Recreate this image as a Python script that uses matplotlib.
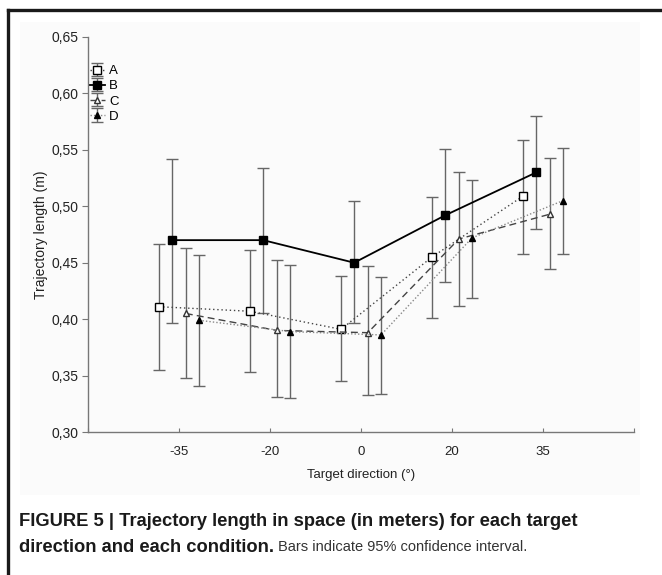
import numpy as np
import matplotlib.pyplot as plt
from matplotlib.patches import Rectangle
from matplotlib.lines import Line2D

plt.rcParams['font.family'] = ['Liberation Sans', 'DejaVu Sans']

directions = ['-35', '-20', '0', '20', '35']
conditions = ['A', 'B', 'C', 'D']

A_mean = [0.411, 0.407, 0.391, 0.455, 0.509]
A_low = [0.355, 0.353, 0.345, 0.401, 0.458]
A_high = [0.467, 0.461, 0.438, 0.508, 0.559]
B_mean = [0.470, 0.470, 0.450, 0.492, 0.530]
B_low = [0.397, 0.405, 0.397, 0.433, 0.480]
B_high = [0.542, 0.534, 0.505, 0.551, 0.580]
C_mean = [0.405, 0.390, 0.388, 0.471, 0.493]
C_low = [0.348, 0.331, 0.333, 0.412, 0.444]
C_high = [0.463, 0.452, 0.447, 0.530, 0.543]
D_mean = [0.399, 0.389, 0.386, 0.472, 0.505]
D_low = [0.341, 0.330, 0.334, 0.419, 0.458]
D_high = [0.457, 0.448, 0.437, 0.523, 0.552]

W, H = 662, 575
fig = plt.figure(figsize=(W / 100, H / 100), dpi=100)

# faint panel behind the chart and the L-shaped frame
fig.add_artist(Rectangle((20 / W, 1 - 495 / H), 620 / W, 473 / H,
                         transform=fig.transFigure, facecolor='#fbfbfb',
                         edgecolor='none', zorder=-10))
fig.add_artist(Line2D([8 / W, 1], [1 - 10 / H, 1 - 10 / H], transform=fig.transFigure,
                      color='#1a1a1a', lw=2.4))
fig.add_artist(Line2D([8 / W, 8 / W], [0, 1 - 10 / H], transform=fig.transFigure,
                      color='#1a1a1a', lw=2.4))

ax = fig.add_axes([88 / W, 1 - 432 / H, (634 - 88) / W, (432 - 37) / H])
ax.patch.set_alpha(0)
ax.set_zorder(5)

x = np.arange(1, 6)
series = [
    (A_mean, A_low, A_high, -0.22, dict(marker='s', mfc='white', mec='black', ms=5.2,
                                        color='#444444', ls=(0, (1, 2)), lw=1.0)),
    (B_mean, B_low, B_high, -0.075, dict(marker='s', mfc='black', mec='black', ms=5.2,
                                         color='black', ls='-', lw=1.3)),
    (C_mean, C_low, C_high, 0.075, dict(marker='^', mfc='white', mec='#333333', ms=5,
                                        color='#444444', ls=(0, (5, 3)), lw=1.0)),
    (D_mean, D_low, D_high, 0.22, dict(marker='^', mfc='black', mec='black', ms=5,
                                       color='#888888', ls=(0, (1, 1.5)), lw=1.0)),
]

handles = []
for (m, lo, hi, off, st), name in zip(series, conditions):
    m = np.array(m)
    yerr = [m - np.array(lo), np.array(hi) - m]
    h = ax.errorbar(x + off, m, yerr=yerr, ecolor='#666666', elinewidth=1.0,
                    capsize=4.2, capthick=1.0, label=name, **st)
    h[0].set_zorder(3)
    handles.append(h)

ax.set_xlim(0, 6)
ax.set_ylim(0.30, 0.65)
ax.set_xticks(range(0, 7))
ax.set_xticklabels([''] + directions + [''])
yt = np.arange(0.30, 0.651, 0.05)
ax.set_yticks(yt)
ax.set_yticklabels([f'{v:.2f}'.replace('.', ',') for v in yt])

for s in ['top', 'right']:
    ax.spines[s].set_visible(False)
for s in ['left', 'bottom']:
    ax.spines[s].set_color('#777777')
    ax.spines[s].set_linewidth(1.0)
ax.tick_params(axis='y', direction='out', length=4, color='#777777', labelsize=10,
               labelcolor='#222222', pad=3)
ax.tick_params(axis='x', direction='in', length=3, color='#777777', labelsize=9.5,
               labelcolor='#222222', pad=10)

ax.set_ylabel('Trajectory length (m)', fontsize=10, color='#222222', labelpad=2)
ax.set_xlabel('Target direction (°)', fontsize=9.5, color='#222222', labelpad=8)

ax.legend(handles=handles, loc='upper left', bbox_to_anchor=(90 / W, 1 - 65 / H),
          bbox_transform=fig.transFigure, frameon=False, fontsize=9.5,
          handlelength=1.1, handletextpad=0.35, labelspacing=0.22,
          borderpad=0, borderaxespad=0)

# caption
fig.text(19 / W, 1 - 522 / H, 'FIGURE 5 | Trajectory length in space (in meters) for each target',
         fontsize=13.2, fontweight='bold', va='center', color='#1a1a1a')
t2 = fig.text(19 / W, 1 - 547 / H, 'direction and each condition.',
              fontsize=13.2, fontweight='bold', va='center', color='#1a1a1a')
fig.canvas.draw()
bb = t2.get_window_extent()
fig.text(bb.x1 / W + 4 / W, 1 - 547 / H, 'Bars indicate 95% confidence interval.',
         fontsize=10.5, va='center', color='#333333')

fig.savefig('out.png', dpi=100)
